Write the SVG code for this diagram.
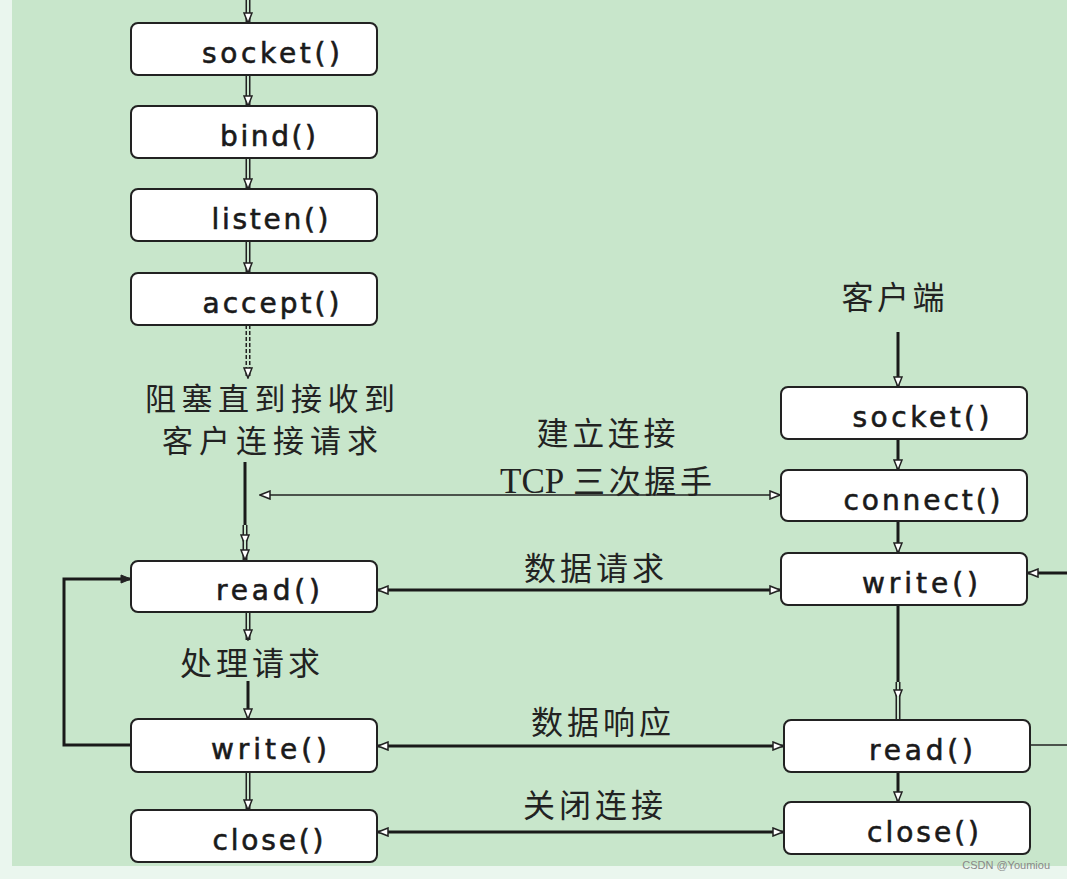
<svg xmlns="http://www.w3.org/2000/svg" width="1067" height="879" viewBox="0 0 1067 879">
<defs>
<style>
.box{fill:#fff;stroke:#222;stroke-width:2}
.lbl{font-family:"DejaVu Sans",sans-serif;font-size:28px;fill:#1a1a1a;stroke:#1a1a1a;stroke-width:0.6;text-anchor:middle}
.cn{font-family:"Noto Sans CJK SC","DejaVu Sans",sans-serif;font-size:32px;fill:#222;text-anchor:middle}
.dbl{stroke:#222;stroke-width:5;fill:none}
.gap{stroke:#c8e6cb;stroke-width:2;fill:none}
.th{stroke:#1a1a1a;stroke-width:3;fill:none}
.tn{stroke:#222;stroke-width:1.5;fill:none}
</style>
<marker id="ah" viewBox="0 0 12 10" refX="11" refY="5" markerWidth="12" markerHeight="10" markerUnits="userSpaceOnUse" orient="auto-start-reverse">
<path d="M1,1 L11,5 L1,9 Z" fill="#fff" stroke="#222" stroke-width="1.5"/>
</marker>
<marker id="af" viewBox="0 0 12 10" refX="11" refY="5" markerWidth="12" markerHeight="10" markerUnits="userSpaceOnUse" orient="auto">
<path d="M1,1 L11,5 L1,9 Z" fill="#222" stroke="#222" stroke-width="1"/>
</marker>
</defs>
<rect x="0" y="0" width="1067" height="879" fill="#eaf6ee"/>
<rect x="12" y="0" width="1055" height="866" fill="#c8e6cb"/>

<g id="connectors">
<path class="dbl" d="M248,0 V23"/><path class="gap" d="M248,0 V23" marker-end="url(#ah)"/>
<path class="dbl" d="M248,75 V106"/><path class="gap" d="M248,75 V106" marker-end="url(#ah)"/>
<path class="dbl" d="M248,158 V189"/><path class="gap" d="M248,158 V189" marker-end="url(#ah)"/>
<path class="dbl" d="M248,241 V273"/><path class="gap" d="M248,241 V273" marker-end="url(#ah)"/>
<path class="dbl" d="M248,325 V376" stroke-dasharray="4,2"/><path class="gap" d="M248,325 V378" marker-end="url(#ah)"/>
<path class="th" d="M245,462 V525"/>
<path class="dbl" d="M245,525 V560"/><path class="gap" d="M245,525 V545" marker-end="url(#ah)"/><path class="gap" d="M245,540 V560" marker-end="url(#ah)"/>
<path class="dbl" d="M248,612 V640"/><path class="gap" d="M248,612 V640" marker-end="url(#ah)"/>
<path class="th" d="M248,681 V719" marker-end="url(#ah)"/>
<path class="dbl" d="M248,772 V810"/><path class="gap" d="M248,772 V810" marker-end="url(#ah)"/>
<path class="th" d="M131,745 H64 V579 H131" marker-end="url(#af)"/>
<path class="th" d="M898,332 V387" marker-end="url(#ah)"/>
<path class="th" d="M898,439 V470" marker-end="url(#ah)"/>
<path class="th" d="M898,521 V553" marker-end="url(#ah)"/>
<path class="th" d="M898,605 V682"/>
<path class="dbl" d="M898,682 V720"/><path class="gap" d="M898,682 V700" marker-end="url(#ah)"/><path class="gap" d="M898,696 V720"/>
<path class="th" d="M898,772 V802" marker-end="url(#ah)"/>
<path class="th" d="M1067,573 H1028" marker-end="url(#ah)"/>
<path class="tn" d="M1030,745 H1067"/>
<path class="tn" d="M260,495 H780" marker-start="url(#ah)" marker-end="url(#ah)"/>
<path class="th" d="M378,590 H780" marker-start="url(#ah)" marker-end="url(#ah)"/>
<path class="th" d="M378,746 H783" marker-start="url(#ah)" marker-end="url(#ah)"/>
<path class="th" d="M378,832 H783" marker-start="url(#ah)" marker-end="url(#ah)"/>
</g>

<g id="s-socket"><rect class="box" x="131" y="23" width="246" height="52" rx="7"/><text class="lbl" x="271" y="63" textLength="138" lengthAdjust="spacing">socket()</text></g>
<g id="s-bind"><rect class="box" x="131" y="106" width="246" height="52" rx="7"/><text class="lbl" x="268" y="146" textLength="96" lengthAdjust="spacing">bind()</text></g>
<g id="s-listen"><rect class="box" x="131" y="189" width="246" height="52" rx="7"/><text class="lbl" x="270" y="229" textLength="117" lengthAdjust="spacing">listen()</text></g>
<g id="s-accept"><rect class="box" x="131" y="273" width="246" height="52" rx="7"/><text class="lbl" x="271" y="313" textLength="137" lengthAdjust="spacing">accept()</text></g>
<g id="s-read"><rect class="box" x="131" y="561" width="246" height="51" rx="7"/><text class="lbl" x="268" y="600" textLength="104" lengthAdjust="spacing">read()</text></g>
<g id="s-write"><rect class="box" x="131" y="719" width="246" height="53" rx="7"/><text class="lbl" x="269" y="759" textLength="116" lengthAdjust="spacing">write()</text></g>
<g id="s-close"><rect class="box" x="131" y="810" width="246" height="52" rx="7"/><text class="lbl" x="268" y="850" textLength="111" lengthAdjust="spacing">close()</text></g>

<g id="c-socket"><rect class="box" x="781" y="387" width="246" height="52" rx="7"/><text class="lbl" x="921" y="427" textLength="137" lengthAdjust="spacing">socket()</text></g>
<g id="c-connect"><rect class="box" x="781" y="470" width="246" height="51" rx="7"/><text class="lbl" x="922" y="510" textLength="157" lengthAdjust="spacing">connect()</text></g>
<g id="c-write"><rect class="box" x="781" y="553" width="246" height="52" rx="7"/><text class="lbl" x="920" y="593" textLength="116" lengthAdjust="spacing">write()</text></g>
<g id="c-read"><rect class="box" x="784" y="720" width="246" height="52" rx="7"/><text class="lbl" x="921" y="760" textLength="104" lengthAdjust="spacing">read()</text></g>
<g id="c-close"><rect class="box" x="784" y="802" width="246" height="52" rx="7"/><text class="lbl" x="923" y="842" textLength="112" lengthAdjust="spacing">close()</text></g>

<g id="labels">
<text class="cn" x="270" y="410" textLength="250" lengthAdjust="spacing" style="font-size:31px">阻塞直到接收到</text>
<text class="cn" x="270" y="452" textLength="216" lengthAdjust="spacing" style="font-size:31px">客户连接请求</text>
<text class="cn" x="606" y="445" textLength="139" lengthAdjust="spacing">建立连接</text>
<text x="500" y="493" font-family="Liberation Serif,serif" font-size="35" fill="#222">TCP</text>
<text class="cn" x="573" y="493" textLength="139" lengthAdjust="spacing" style="text-anchor:start">三次握手</text>
<text class="cn" x="594" y="580" textLength="140" lengthAdjust="spacing">数据请求</text>
<text class="cn" x="250" y="675" textLength="140" lengthAdjust="spacing">处理请求</text>
<text class="cn" x="601" y="734" textLength="140" lengthAdjust="spacing">数据响应</text>
<text class="cn" x="593" y="817" textLength="140" lengthAdjust="spacing">关闭连接</text>
<text class="cn" x="893" y="309" textLength="103" lengthAdjust="spacing">客户端</text>
</g>
<text x="1050" y="869" font-family="Liberation Sans,sans-serif" font-size="11" fill="#888" text-anchor="end">CSDN @Youmiou</text>
</svg>
